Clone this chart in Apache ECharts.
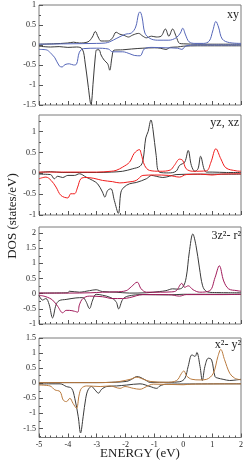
<!DOCTYPE html>
<html><head><meta charset="utf-8">
<script src="https://cdn.jsdelivr.net/npm/echarts@6/dist/echarts.min.js"></script>
<style>html,body{margin:0;padding:0;background:#fff}#c{width:249px;height:465px}</style>
</head><body><div id="c"></div>
<script>
// ---- data: [energy (eV), DOS (states/eV)] ----
const panelLabels = ['xy', 'yz, xz', '3z\u00b2- r\u00b2', 'x\u00b2- y\u00b2'];
const xTickLabels = [-5, -4, -3, -2, -1, 0, 1, 2];
const yTicks1 = [-1.5, -1, -0.5, 0, 0.5, 1];
const yTicks2 = [-1, -0.5, 0, 0.5, 1];
const yTicks3 = [-1, -0.5, 0, 0.5, 1, 1.5, 2];
const yTicks4 = [-1.5, -1, -0.5, 0, 0.5, 1, 1.5];
const yRanges = [[-1.5, 1], [-1, 1.4], [-1, 2.2], [-1.8, 1.5]];

const xyBlackUp = [[-5,0.02],[-4.5,0.03],[-4,0.05],[-3.8,0.07],[-3.6,0.05],[-3.3,0.08],[-3.15,0.2],[-3.05,0.34],[-2.95,0.2],[-2.85,0.1],[-2.6,0.1],[-2.45,0.18],[-2.33,0.32],[-2.2,0.27],[-2.05,0.24],[-1.9,0.2],[-1.75,0.25],[-1.55,0.29],[-1.4,0.22],[-1.28,0.18],[-1.1,0.22],[-0.94,0.2],[-0.77,0.22],[-0.62,0.4],[-0.5,0.22],[-0.37,0.4],[-0.25,0.22],[-0.13,0.04],[0,0.03],[0.5,0.02],[1,0.02],[2,0.02]];
const xyBlackDown = [[-5,-0.03],[-4.6,-0.05],[-4.3,-0.04],[-4.0,-0.06],[-3.7,-0.05],[-3.5,-0.1],[-3.4,-0.45],[-3.3,-1.0],[-3.2,-1.48],[-3.12,-0.9],[-3.05,-0.3],[-3.0,-0.12],[-2.92,-0.12],[-2.85,-0.25],[-2.74,-0.38],[-2.62,-0.47],[-2.55,-0.63],[-2.47,-0.3],[-2.4,-0.13],[-2.1,-0.12],[-1.8,-0.1],[-1.4,-0.08],[-1.0,-0.07],[-0.8,-0.08],[-0.6,-0.11],[-0.45,-0.06],[-0.2,-0.05],[0,-0.03],[0.5,-0.02],[2,-0.02]];
const xyColUp = [[-5,0.02],[-4,0.03],[-3,0.04],[-2.7,0.05],[-2.55,0.08],[-2.3,0.17],[-2.0,0.27],[-1.8,0.3],[-1.65,0.45],[-1.55,0.78],[-1.5,0.83],[-1.43,0.7],[-1.33,0.3],[-1.17,0.17],[-0.9,0.12],[-0.5,0.12],[-0.25,0.18],[-0.1,0.3],[-0.02,0.42],[0.08,0.25],[0.2,0.08],[0.4,0.04],[0.7,0.04],[0.9,0.1],[1.02,0.35],[1.13,0.59],[1.22,0.45],[1.35,0.15],[1.6,0.06],[2,0.04]];
const xyColDown = [[-5,-0.11],[-4.75,-0.12],[-4.6,-0.2],[-4.45,-0.32],[-4.3,-0.52],[-4.2,-0.55],[-4.1,-0.49],[-3.95,-0.47],[-3.8,-0.5],[-3.7,-0.48],[-3.6,-0.18],[-3.45,-0.09],[-3.0,-0.08],[-2.6,-0.1],[-2.45,-0.17],[-2.1,-0.17],[-1.85,-0.22],[-1.7,-0.26],[-1.5,-0.27],[-1.35,-0.1],[-1.1,-0.06],[-0.6,-0.07],[-0.2,-0.08],[-0.05,-0.11],[0.1,-0.02],[0.5,0],[2,0]];

const yzBlackUp = [[-5,0.02],[-4.6,0.04],[-4.2,0.02],[-3,0.02],[-2.5,0.03],[-2.1,0.05],[-1.75,0.11],[-1.5,0.17],[-1.4,0.3],[-1.3,0.85],[-1.22,1.0],[-1.12,1.28],[-1.05,1.05],[-0.94,0.43],[-0.83,0.03],[-0.5,0.01],[-0.25,0.05],[-0.13,0.19],[0.05,0.27],[0.17,0.55],[0.28,0.19],[0.4,0.05],[0.51,0.11],[0.6,0.41],[0.72,0.1],[0.8,0.03],[1.0,0.03],[1.5,0.02],[2,0.02]];
const yzBlackDown = [[-5,-0.02],[-4.6,-0.03],[-4.47,-0.13],[-4.35,-0.07],[-4.18,-0.1],[-4.0,-0.05],[-3.77,-0.05],[-3.6,-0.01],[-3.37,-0.09],[-3.14,-0.17],[-2.97,-0.25],[-2.8,-0.45],[-2.72,-0.57],[-2.62,-0.41],[-2.51,-0.37],[-2.39,-0.65],[-2.25,-0.96],[-2.16,-0.45],[-2.05,-0.33],[-1.86,-0.25],[-1.63,-0.22],[-1.28,-0.13],[-1.1,-0.05],[-0.94,-0.07],[-0.71,-0.1],[-0.48,-0.07],[-0.25,-0.03],[0.5,-0.02],[2,-0.02]];
const yzColUp = [[-5,0.03],[-4,0.03],[-3,0.03],[-2.5,0.05],[-2.33,0.07],[-2.1,0.15],[-1.86,0.27],[-1.7,0.48],[-1.52,0.57],[-1.46,0.47],[-1.34,0.19],[-1.17,0.07],[-0.8,0.05],[-0.45,0.08],[-0.31,0.19],[-0.13,0.34],[-0.02,0.31],[0.1,0.11],[0.33,0.05],[0.8,0.06],[0.96,0.27],[1.13,0.59],[1.3,0.35],[1.48,0.13],[1.83,0.06],[2,0.05]];
const yzColDown = [[-5,-0.13],[-4.76,-0.09],[-4.58,-0.17],[-4.41,-0.33],[-4.24,-0.53],[-4.0,-0.59],[-3.9,-0.49],[-3.77,-0.49],[-3.66,-0.33],[-3.55,-0.13],[-3.37,-0.1],[-3.1,-0.12],[-2.8,-0.17],[-2.45,-0.2],[-2.2,-0.23],[-1.92,-0.21],[-1.63,-0.17],[-1.4,-0.05],[-1.0,-0.04],[-0.5,-0.05],[-0.13,-0.09],[0.1,-0.03],[0.6,-0.02],[1.0,-0.04],[1.3,-0.02],[2,-0.01]];

const zBlackUp = [[-5,0.02],[-4,0.03],[-3.95,0.08],[-3.6,0.05],[-3.25,0.1],[-3.02,0.13],[-2.8,0.07],[-2.33,0.05],[-1.86,0.02],[-1.28,0.03],[-0.83,0.07],[-0.6,0.1],[-0.37,0.16],[-0.2,0.15],[-0.02,0.21],[0.1,0.53],[0.21,1.38],[0.33,1.97],[0.44,1.59],[0.56,0.85],[0.67,0.26],[0.79,0.08],[1.02,0.04],[2,0.03]];
const zBlackDown = [[-5,-0.05],[-4.88,-0.21],[-4.76,-0.16],[-4.65,-0.35],[-4.53,-0.8],[-4.41,-0.37],[-4.3,-0.23],[-4.06,-0.19],[-3.72,-0.14],[-3.48,-0.13],[-3.37,-0.26],[-3.25,-0.49],[-3.14,-0.21],[-3.02,-0.02],[-2.8,-0.05],[-2.51,-0.13],[-2.33,-0.26],[-2.24,-0.5],[-2.1,-0.19],[-1.92,-0.08],[-1.4,-0.03],[-0.5,-0.04],[0,-0.02],[2,-0.02]];
const zColUp = [[-5,0.02],[-4,0.02],[-3.2,0.03],[-2.8,0.05],[-2.33,0.06],[-1.98,0.1],[-1.8,0.23],[-1.6,0.38],[-1.46,0.16],[-1.28,0.05],[-0.8,0.05],[-0.4,0.06],[-0.24,0.1],[-0.05,0.34],[0.05,0.21],[0.17,0.26],[0.34,0.13],[0.57,0.05],[0.92,0.1],[1.1,0.53],[1.25,0.92],[1.4,0.42],[1.57,0.16],[1.86,0.1],[2,0.08]];
const zColDown = [[-5,-0.05],[-4.76,-0.1],[-4.53,-0.21],[-4.35,-0.42],[-4.18,-0.63],[-4.06,-0.55],[-3.95,-0.55],[-3.77,-0.58],[-3.66,-0.61],[-3.6,-0.37],[-3.48,-0.16],[-3.25,-0.08],[-2.8,-0.1],[-2.45,-0.16],[-2.1,-0.16],[-1.86,-0.13],[-1.4,-0.03],[-0.5,-0.03],[-0.13,-0.08],[0.1,-0.03],[1.4,-0.03],[2,-0.02]];

const x2BlackUp = [[-5,0.02],[-3,0.02],[-2.5,0.03],[-1.96,0.06],[-1.79,0.13],[-1.61,0.22],[-1.5,0.2],[-1.32,0.11],[-1.15,0.03],[-0.5,0.03],[-0.12,0.05],[0.06,0.17],[0.17,0.56],[0.3,0.94],[0.41,0.89],[0.47,1.02],[0.58,0.56],[0.66,0.09],[0.75,0.56],[0.87,0.83],[0.98,0.78],[1.1,0.22],[1.2,0.17],[1.38,0.13],[1.61,0.09],[1.84,0.11],[2,0.13]];
const x2BlackDown = [[-5,-0.03],[-4.62,-0.02],[-4.27,-0.02],[-4.05,-0.11],[-3.87,-0.17],[-3.76,-0.5],[-3.64,-1.11],[-3.56,-1.65],[-3.47,-1.11],[-3.38,-0.5],[-3.3,-0.22],[-3.18,-0.11],[-3.06,-0.22],[-2.94,-0.33],[-2.83,-0.2],[-2.65,-0.11],[-2.31,-0.09],[-1.96,-0.06],[-1.5,-0.02],[-1.15,-0.11],[-0.92,-0.17],[-0.81,-0.09],[-0.58,-0.03],[2,-0.02]];
const x2ColUp = [[-5,0.02],[-3,0.02],[-2.5,0.03],[-2.19,0.06],[-1.84,0.13],[-1.61,0.2],[-1.38,0.13],[-1.15,0.06],[-0.6,0.03],[-0.23,0.09],[-0.06,0.33],[0.02,0.41],[0.12,0.24],[0.3,0.13],[0.58,0.11],[0.81,0.13],[1.04,0.33],[1.2,0.89],[1.3,1.12],[1.43,0.78],[1.61,0.33],[1.78,0.17],[2,0.11]];
const x2ColDown = [[-5,-0.06],[-4.62,-0.09],[-4.45,-0.22],[-4.27,-0.28],[-4.16,-0.56],[-4.05,-0.61],[-3.93,-0.5],[-3.82,-0.67],[-3.7,-0.83],[-3.61,-0.39],[-3.53,-0.17],[-3.35,-0.09],[-2.88,-0.11],[-2.54,-0.09],[-2.19,-0.17],[-2.02,-0.11],[-1.73,-0.17],[-1.5,-0.2],[-1.27,-0.11],[-1.04,-0.03],[0,-0.05],[0.3,-0.03],[2,-0.02]];

// ---- chart ----
const FONT = '"Liberation Serif", "DejaVu Serif", serif';
const panelColors = ['#5566b8', '#f01c1c', '#a01a5a', '#b97a3e'];
const blackColor = '#3a3a3a';
const yTickSets = [yTicks1, yTicks2, yTicks3, yTicks4];
const panels = [
  [xyBlackUp, xyBlackDown, xyColUp, xyColDown],
  [yzBlackUp, yzBlackDown, yzColUp, yzColDown],
  [zBlackUp, zBlackDown, zColUp, zColDown],
  [x2BlackUp, x2BlackDown, x2ColUp, x2ColDown]
];
const gridPos = [[5, 100], [115, 100], [227, 97], [338, 99.5]];

const grids = [], xAxes = [], yAxes = [], series = [], graphics = [];
function minorVals(lo, hi, step) {
  const out = [];
  for (let k = Math.ceil(lo / step - 1e-9); k * step <= hi + 1e-9; k++) out.push(+(k * step).toFixed(4));
  return out;
}
gridPos.forEach((g, i) => {
  grids.push({left: 39, right: 8, top: g[0], height: g[1], show: true, borderColor: '#7a7a7a', borderWidth: 1, backgroundColor: 'transparent'});
  xAxes.push({
    type: 'value', gridIndex: i, min: -5, max: 2, interval: 1, position: 'bottom',
    axisLine: {show: false, onZero: false},
    axisTick: {show: true, inside: true, length: 4, lineStyle: {color: '#555', width: 1}},
    minorTick: {show: true, splitNumber: 5, length: 2, lineStyle: {color: '#555', width: 1}},
    splitLine: {show: false},
    axisLabel: {show: i === 3, fontFamily: FONT, fontSize: 8, color: '#222', margin: 3,
      customValues: xTickLabels}
  });
  const [lo, hi] = yRanges[i];
  yAxes.push({
    type: 'value', gridIndex: i, min: lo, max: hi, position: 'left',
    axisLine: {show: false, onZero: false}, splitLine: {show: false},
    axisTick: {show: true, inside: true, length: 4, customValues: yTickSets[i], lineStyle: {color: '#555', width: 1}},
    axisLabel: {fontFamily: FONT, fontSize: 8, color: '#222', margin: 3, customValues: yTickSets[i]}
  });
  yAxes.push({
    type: 'value', gridIndex: i, min: lo, max: hi, position: 'left', offset: 0,
    axisLine: {show: false, onZero: false}, splitLine: {show: false},
    axisTick: {show: true, inside: true, length: 2, customValues: minorVals(lo, hi, 0.25), lineStyle: {color: '#555', width: 1}},
    axisLabel: {show: false}
  });
  const d = panels[i];
  const cols = [blackColor, blackColor, panelColors[i], panelColors[i]];
  d.forEach((arr, j) => {
    series.push({
      type: 'line', xAxisIndex: i, yAxisIndex: 2 * i, data: arr, smooth: 0.35,
      showSymbol: false, symbol: 'none', silent: true, animation: false,
      lineStyle: {color: cols[j], width: 1}, z: j >= 2 ? 3 : 2
    });
  });
});

const labelPos = [[239, 15], [239, 123], [241, 236], [241, 345]];
panelLabels.forEach((t, i) => {
  graphics.push({type: 'text', x: labelPos[i][0], y: labelPos[i][1],
    style: {text: t, font: '12px ' + FONT, fill: '#222', align: 'right', verticalAlign: 'middle'}, z: 10});
});
graphics.push({type: 'text', x: 140, y: 454,
  style: {text: 'ENERGY (eV)', font: '13px ' + FONT, fill: '#222', align: 'center', verticalAlign: 'middle'}});
graphics.push({type: 'text', x: 13, y: 216, rotation: Math.PI / 2,
  style: {text: 'DOS (states/eV)', font: '13px ' + FONT, fill: '#222', align: 'center', verticalAlign: 'middle'}});

const chart = echarts.init(document.getElementById('c'), null, {renderer: 'canvas'});
chart.setOption({
  animation: false,
  grid: grids, xAxis: xAxes, yAxis: yAxes, series: series, graphic: graphics
});
</script>
</body></html>
